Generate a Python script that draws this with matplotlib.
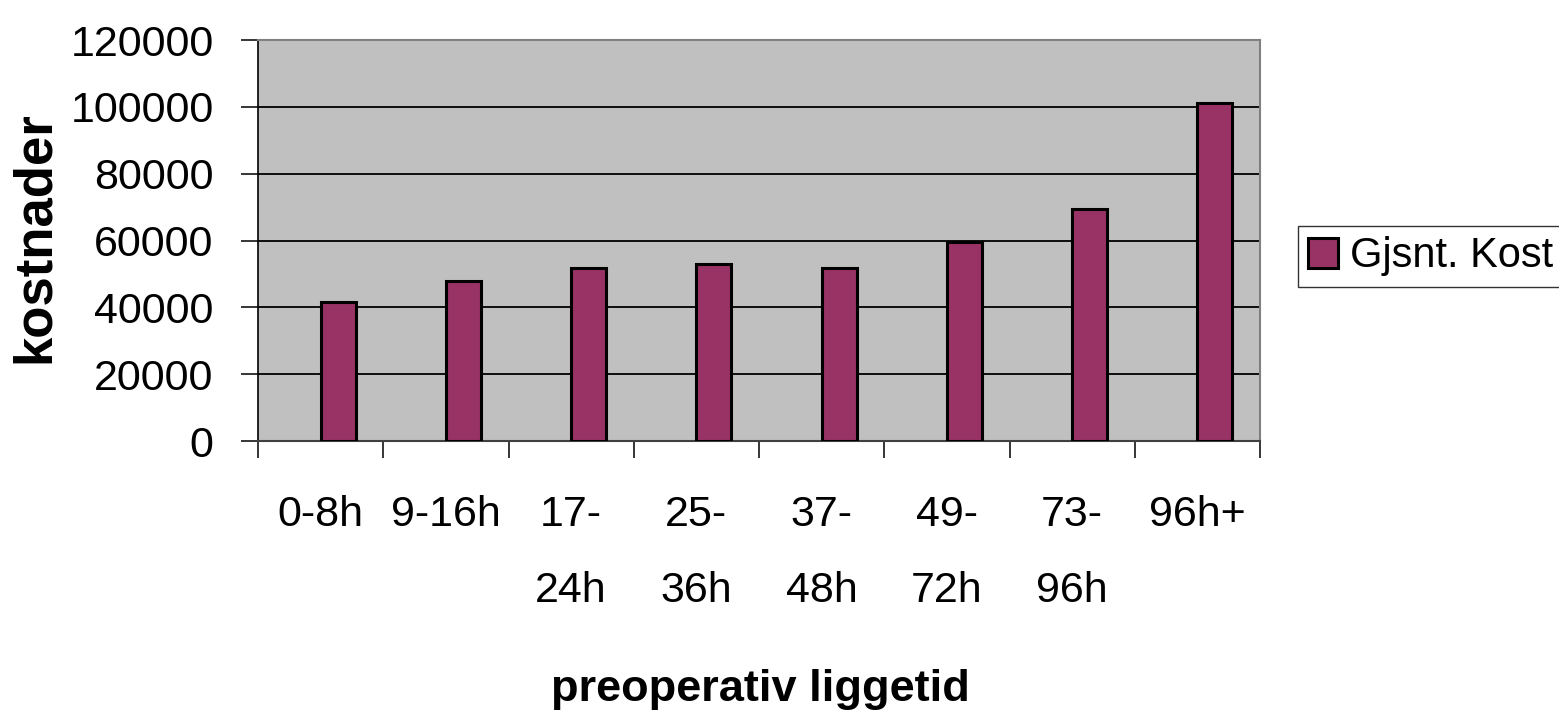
import matplotlib
matplotlib.use("Agg")
import matplotlib.pyplot as plt
from matplotlib import font_manager
import numpy as np

categories = ["0-8h", "9-16h", "17-\n24h", "25-\n36h", "37-\n48h", "49-\n72h", "73-\n96h", "96h+"]
values = [41500, 48000, 51700, 53000, 51700, 59500, 69500, 101000]
series_name = "Gjsnt. Kost"
yticks = [0, 20000, 40000, 60000, 80000, 100000, 120000]

names = {f.name for f in font_manager.fontManager.ttflist}
narrow = "Liberation Sans Narrow" in names
tick_family = "Liberation Sans Narrow" if narrow else "Liberation Sans"
tick_size = 35 if narrow else 31

fig = plt.figure(figsize=(15.59, 7.19), dpi=100)
ax = fig.add_axes([258/1559, 1-441/719, (1260-258)/1559, (441-40)/719])
ax.set_facecolor("#C0C0C0")

x = np.arange(len(categories))
bars = ax.bar(x, values, width=0.28, align="edge", color="#993366", edgecolor="black",
              linewidth=2.2, zorder=3, label=series_name)

ax.set_xlim(-0.5, len(categories) - 0.5)
ax.set_ylim(0, 120000)
ax.set_yticks(yticks)
ax.set_yticklabels([str(v) for v in yticks], family=tick_family, fontsize=tick_size)
ax.yaxis.grid(True, color="black", linewidth=1.3, zorder=1)
ax.set_axisbelow(True)

ax.set_xticks(x)
ax.set_xticklabels(categories, family=tick_family, fontsize=tick_size, linespacing=2.16, va="top")
ax.set_xticks(np.arange(-0.5, len(categories), 1.0), minor=True)
ax.tick_params(axis="x", which="major", length=0, pad=39)
ax.tick_params(axis="x", which="minor", length=12, width=1.1, color="black", direction="out")
ax.tick_params(axis="y", which="major", length=12, width=1.1, color="black", direction="out", pad=20)

for s in ["top", "right"]:
    ax.spines[s].set_color("#808080")
    ax.spines[s].set_linewidth(1.5)
ax.spines["left"].set_color("black")
ax.spines["left"].set_linewidth(1.2)
ax.spines["bottom"].set_color("#404040")
ax.spines["bottom"].set_linewidth(1.5)

fig.text(35/1559, 1-237/719, "kostnader", rotation=90, ha="center", va="center",
         family="Liberation Sans", fontweight="bold", fontsize=38)
fig.text(760/1559, 1-690/719, "preoperativ liggetid", ha="center", va="center",
         family="Liberation Sans", fontweight="bold", fontsize=32.5)

leg = fig.legend(handles=[bars], labels=[series_name], loc="upper left",
                 bbox_to_anchor=(1298/1559, 1-226/719), frameon=True, fancybox=False,
                 prop={"family": "Liberation Sans", "size": 30},
                 handlelength=0.7, handleheight=0.75, handletextpad=0.3,
                 borderpad=0.25, borderaxespad=0)
leg.get_frame().set_edgecolor("black")
leg.get_frame().set_linewidth(1.0)

fig.savefig("out.png", dpi=100)
